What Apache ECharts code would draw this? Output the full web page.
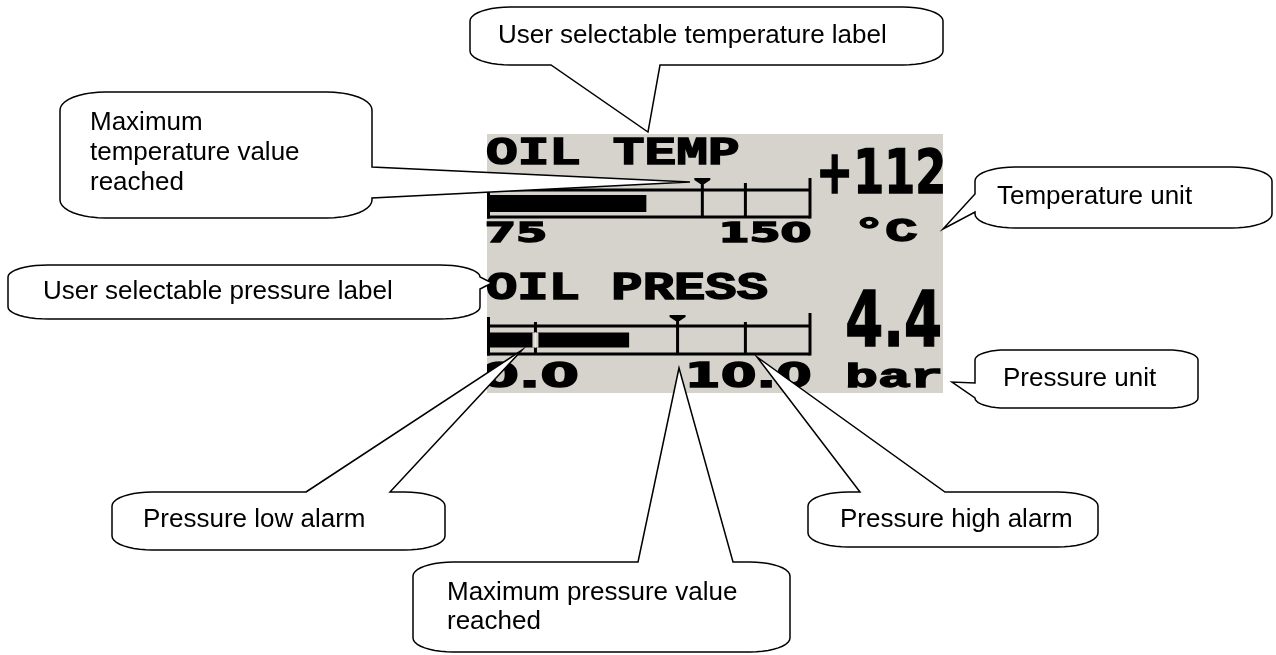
<!DOCTYPE html>
<html>
<head>
<meta charset="utf-8">
<title>Oil temperature / pressure display</title>
<script src="https://cdn.jsdelivr.net/npm/echarts@6/dist/echarts.min.js"></script>
<style>
  html, body { margin: 0; padding: 0; background: #fff; }
  #main { width: 1276px; height: 655px; }
</style>
</head>
<body>
<div id="main"></div>
<script>
'use strict';
// readings shown on the display, one entry per gauge
var gaugeNames = ['OIL TEMP', 'OIL PRESS'];
var gaugeUnits = ['°C', 'bar'];
var scaleMin = [75, 0];
var scaleMax = [150, 10];
var currentValues = [112, 4.4];
var peakValues = [125, 5.9];
var lowAlarms = [[], [1.5]];
var highAlarms = [[135], [8.0]];
var scaleLabels = [['75', '150'], ['0.0', '10.0']];
var valueLabels = ['+112', '4.4'];

// callout texts
var calloutTexts = [
  'User selectable temperature label',
  'Maximum\ntemperature value\nreached',
  'Temperature unit',
  'User selectable pressure label',
  'Pressure unit',
  'Pressure low alarm',
  'Maximum pressure value\nreached',
  'Pressure high alarm'
];

// ---- layout / styles ----
var LCD_INK = '#000';
var LCD_FONT = '"Liberation Mono", monospace';      // letters
var LCD_DIGITS = '"DejaVu Sans", sans-serif';        // numbers (plain zero)
var PANEL = {x: 487, y: 134, w: 456, h: 259, color: '#d6d3cc'};
var gridBoxes = [
  {left: 487, top: 190, width: 323, height: 27},
  {left: 487, top: 326, width: 323, height: 28}
];
var gaugeStyle = [
  {barWidth: 17, startRise: 0, endRise: 12, tickRise: 7, peakRise: 12},
  {barWidth: 15, startRise: 9, endRise: 13, tickRise: 4, peakRise: 11}
];
var lcdLayout = [
  {name: [138, 165, 738], label: [222, 243], minShift: 0, minRight: 545, maxLeft: 723,
    value: [820, 148, 943, 194], unit: [860, 218, 917, 242]},
  {name: [273, 300, 767], label: [362, 388], minShift: -5, minRight: 577, maxLeft: 690,
    value: [847, 290, 940, 347], unit: [848, 363, 940, 388]}
];
var calloutLayout = [
  {box: [470, 7, 473, 58], tail: {side: 'bottom', from: 551, to: 660, tip: [648, 132]}, text: [498, 36]},
  {box: [60, 92, 312, 126], r: [45, 18], tail: {side: 'right', from: 167, to: 198, tip: [690, 182]}, text: [90, 153]},
  {box: [975, 167, 297, 61], tail: {side: 'left', from: 194, to: 212, tip: [943, 229]}, text: [997, 197]},
  {box: [8, 265, 472, 54], r: [40, 12], tail: {side: 'right', from: 277, to: 289, tip: [492, 283]}, text: [43, 292]},
  {box: [975, 350, 223, 58], r: [30, 10], tail: {side: 'left', from: 383, to: 398, tip: [952, 382]}, text: [1003, 379]},
  {box: [112, 492, 333, 58], tail: {side: 'top', from: 306, to: 390, tip: [522, 350]}, text: [143, 520]},
  {box: [413, 562, 377, 90], tail: {side: 'top', from: 638, to: 733, tip: [679, 368]}, text: [447, 607], lh: 29},
  {box: [808, 492, 290, 55], tail: {side: 'top', from: 860, to: 945, tip: [757, 357]}, text: [840, 520]}
];

var chart = echarts.init(document.getElementById('main'));

// frame of a bar gauge: top/bottom rules plus the two end posts
function frameItem(gi) {
  return function (params, api) {
    var st = gaugeStyle[gi];
    var a = api.coord([api.value(0), 0]);
    var b = api.coord([api.value(1), 0]);
    var cs = params.coordSys;
    var y0 = cs.y, y1 = cs.y + cs.height;
    var ls = {stroke: LCD_INK, lineWidth: 3};
    return {type: 'group', children: [
      {type: 'line', shape: {x1: a[0], y1: y0, x2: b[0], y2: y0}, style: ls},
      {type: 'line', shape: {x1: a[0], y1: y1, x2: b[0], y2: y1}, style: ls},
      {type: 'line', shape: {x1: a[0] + 1.5, y1: y0 - st.startRise, x2: a[0] + 1.5, y2: y1 + 1.5}, style: ls},
      {type: 'line', shape: {x1: b[0], y1: y0 - st.endRise, x2: b[0], y2: y1 + 1.5}, style: ls}
    ]};
  };
}

// alarm tick; where the bar already covers it, the tick shows as a gap
function alarmItem(gi) {
  return function (params, api) {
    var st = gaugeStyle[gi];
    var p = api.coord([api.value(0), 0]);
    var cs = params.coordSys;
    var kids = [{type: 'line', shape: {x1: p[0], y1: cs.y - st.tickRise, x2: p[0], y2: cs.y + cs.height},
      style: {stroke: LCD_INK, lineWidth: 3}}];
    if (api.value(0) < currentValues[gi]) {
      kids.push({type: 'rect', shape: {x: p[0] - 3, y: p[1] - st.barWidth / 2, width: 6, height: st.barWidth},
        style: {fill: PANEL.color}});
      kids.push({type: 'line', shape: {x1: p[0], y1: p[1] - st.barWidth / 2, x2: p[0], y2: p[1] + st.barWidth / 2},
        style: {stroke: '#eeece8', lineWidth: 1.5}});
    }
    return {type: 'group', children: kids};
  };
}

// peak hold marker: small flag with a stem
function peakItem(gi) {
  return function (params, api) {
    var st = gaugeStyle[gi];
    var p = api.coord([api.value(0), 0]);
    var cs = params.coordSys;
    var t = cs.y - st.peakRise;
    var x = p[0];
    return {type: 'group', children: [
      {type: 'polygon', shape: {points: [[x - 8, t], [x + 8, t], [x + 8, t + 2], [x + 2, t + 6], [x - 2, t + 6], [x - 8, t + 2]]},
        style: {fill: LCD_INK}},
      {type: 'line', shape: {x1: x, y1: t + 4, x2: x, y2: cs.y + cs.height}, style: {stroke: LCD_INK, lineWidth: 3}}
    ]};
  };
}

var grids = [], xAxes = [], yAxes = [], series = [];
for (var i = 0; i < gaugeNames.length; i++) {
  grids.push({left: gridBoxes[i].left, top: gridBoxes[i].top, width: gridBoxes[i].width, height: gridBoxes[i].height, show: false});
  xAxes.push({type: 'value', gridIndex: i, min: scaleMin[i], max: scaleMax[i], show: false});
  yAxes.push({type: 'category', gridIndex: i, data: [gaugeNames[i]], show: false});
  series.push({
    type: 'bar', name: gaugeNames[i], xAxisIndex: i, yAxisIndex: i,
    data: [currentValues[i]], barWidth: gaugeStyle[i].barWidth,
    itemStyle: {color: LCD_INK}, silent: true, z: 2
  });
  series.push({
    type: 'custom', name: gaugeNames[i] + ' frame', xAxisIndex: i, yAxisIndex: i,
    data: [[scaleMin[i], scaleMax[i], 0]], encode: {x: [0, 1], y: 2},
    renderItem: frameItem(i), silent: true, z: 3
  });
  var alarms = lowAlarms[i].concat(highAlarms[i]);
  series.push({
    type: 'custom', name: gaugeNames[i] + ' alarms', xAxisIndex: i, yAxisIndex: i,
    data: alarms.map(function (v) { return [v, 0]; }),
    renderItem: alarmItem(i), silent: true, z: 4
  });
  series.push({
    type: 'custom', name: gaugeNames[i] + ' peak', xAxisIndex: i, yAxisIndex: i,
    data: [[peakValues[i], 0]],
    renderItem: peakItem(i), silent: true, z: 4
  });
}

chart.setOption({
  animation: false,
  backgroundColor: '#fff',
  grid: grids,
  xAxis: xAxes,
  yAxis: yAxes,
  series: series
});

// ---- texts on the display, fitted to the ink box seen on the panel ----
var measureCtx = document.createElement('canvas').getContext('2d');
function lcdText(text, box, family) {
  family = family || LCD_FONT;
  measureCtx.font = 'bold 100px ' + family;
  measureCtx.textBaseline = 'middle';
  var m = measureCtx.measureText(text);
  var inkH = m.actualBoundingBoxAscent + m.actualBoundingBoxDescent;
  var size = 100 * (box[3] - box[1] - 1) / inkH;
  var k = size / 100;
  var inkW = (m.actualBoundingBoxLeft + m.actualBoundingBoxRight) * k;
  var sx = (box[2] - box[0] - 1) / inkW;
  return {
    type: 'text', z: 5, silent: true,
    x: box[0] + 0.5 + m.actualBoundingBoxLeft * k * sx,
    y: box[1] + 0.5 + m.actualBoundingBoxAscent * k,
    scaleX: sx,
    style: {text: text, font: 'bold ' + size.toFixed(2) + 'px ' + family, fill: LCD_INK,
      stroke: LCD_INK, lineWidth: 1.4,
      textAlign: 'left', align: 'left', textVerticalAlign: 'middle', verticalAlign: 'middle'}
  };
}

function calloutPoints(c) {
  var x = c.box[0], y = c.box[1], w = c.box[2], h = c.box[3];
  var rx = c.r ? c.r[0] : 40, ry = c.r ? c.r[1] : 14;
  var t = c.tail;
  var pts = [];
  function arc(cx, cy, a0, a1) {
    for (var s = 0; s <= 10; s++) {
      var a = (a0 + (a1 - a0) * s / 10) * Math.PI / 180;
      pts.push([cx + rx * Math.cos(a), cy + ry * Math.sin(a)]);
    }
  }
  if (t.side === 'top') pts.push([t.from, y], t.tip, [t.to, y]);
  arc(x + w - rx, y + ry, -90, 0);
  if (t.side === 'right') pts.push([x + w, t.from], t.tip, [x + w, t.to]);
  arc(x + w - rx, y + h - ry, 0, 90);
  if (t.side === 'bottom') pts.push([t.to, y + h], t.tip, [t.from, y + h]);
  arc(x + rx, y + h - ry, 90, 180);
  if (t.side === 'left') pts.push([x, t.to], t.tip, [x, t.from]);
  arc(x + rx, y + ry, 180, 270);
  return pts;
}

var elements = [
  {type: 'rect', z: 0, silent: true, shape: {x: PANEL.x, y: PANEL.y, width: PANEL.w, height: PANEL.h},
    style: {fill: PANEL.color}}
];
for (var g = 0; g < gaugeNames.length; g++) {
  var L = lcdLayout[g];
  var xMin = chart.convertToPixel({xAxisIndex: g}, scaleMin[g]);
  var xMax = chart.convertToPixel({xAxisIndex: g}, scaleMax[g]);
  elements.push(lcdText(gaugeNames[g], [xMin, L.name[0], L.name[2], L.name[1]]));
  elements.push(lcdText(scaleLabels[g][0], [xMin + L.minShift, L.label[0], L.minRight, L.label[1]], LCD_DIGITS));
  elements.push(lcdText(scaleLabels[g][1], [L.maxLeft, L.label[0], xMax, L.label[1]], LCD_DIGITS));
  elements.push(lcdText(valueLabels[g], L.value, LCD_DIGITS));
  elements.push(lcdText(gaugeUnits[g], L.unit));
  if (L.minShift < 0) {
    // panel edge crops the first digit
    elements.push({type: 'rect', z: 6, silent: true,
      shape: {x: xMin + L.minShift - 10, y: L.label[0] - 4, width: 10 - L.minShift, height: L.label[1] - L.label[0] + 8},
      style: {fill: '#fff'}});
  }
}
calloutLayout.forEach(function (c, idx) {
  elements.push({type: 'polygon', z: 10, silent: true, shape: {points: calloutPoints(c)},
    style: {fill: '#fff', stroke: '#000', lineWidth: 1.5, lineJoin: 'miter'}});
  elements.push({type: 'text', z: 11, silent: true, x: c.text[0], y: c.text[1],
    style: {text: calloutTexts[idx], fontFamily: '"Liberation Sans", Arial, sans-serif', fontSize: 26,
      lineHeight: c.lh || 30, fill: '#000',
      textAlign: 'left', align: 'left', textVerticalAlign: 'middle', verticalAlign: 'middle'}});
});

chart.setOption({graphic: {elements: elements}});
</script>
</body>
</html>
